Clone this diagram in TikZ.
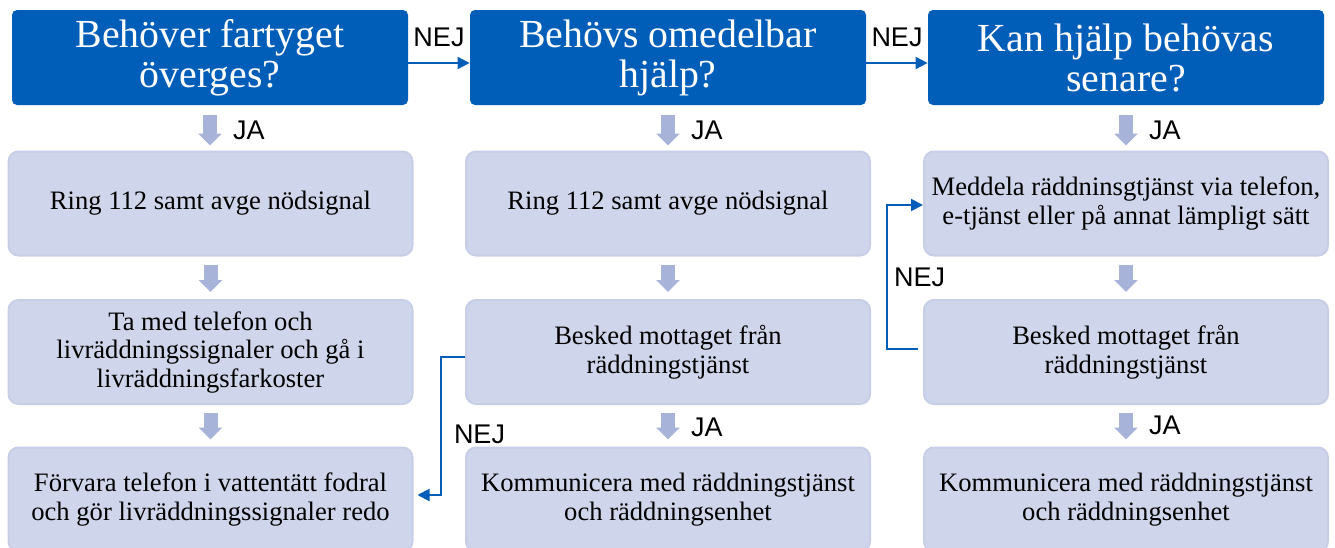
\documentclass[tikz,border=0pt]{standalone}
\usepackage{fontspec}
\setmainfont{Liberation Serif}
\newfontfamily\labelfont{Liberation Sans}
\usetikzlibrary{arrows.meta}
\definecolor{color1}{RGB}{0, 94, 184}
\definecolor{color2}{RGB}{207, 213, 234}
\definecolor{color3}{RGB}{168, 179, 217}
\definecolor{color4}{RGB}{199, 206, 230}

\begin{document}
\begin{tikzpicture}[x=0.5pt, y=-0.5pt,
	question/.style={fill=color1, rounded corners=2.5pt, text=white, minimum width=198pt, minimum height=47.5pt, inner sep=0pt, align=center, font=\fontsize{19.9}{20}\selectfont},
	answer/.style={fill=color2, draw=color4, line width=1pt, rounded corners=5pt, minimum width=202pt, minimum height=52pt, inner sep=0pt, align=center, font=\fontsize{13.3}{14.25}\selectfont},
	downarrow/.style={color3, line width=7pt, -{Triangle[width=11.5pt, length=6pt]}, shorten <=4pt, shorten >=3.5pt},
	nejarrow/.style={color1, line width=1pt, -{Triangle[width=6pt, length=6pt]}},
	tag/.style={inner sep=0pt, text=black, font=\labelfont\fontsize{13.5}{15}\selectfont}]
	\useasboundingbox (0,0) rectangle (1335,547);
	\node[question] (q1) at (210,57.5) {Behöver fartyget\\överges?};
	\node[question] (q2) at (668,57.5) {Behövs omedelbar\\hjälp?};
	\node[question] (q3) at (1126,57.5) {Kan hjälp behövas\\senare?};
	\node[answer] (a1) at (210.5,203.5) {Ring 112 samt avge nödsignal};
	\node[answer] (a2) at (210.5,352) {Ta med telefon och\\livräddningssignaler och gå i\\livräddningsfarkoster};
	\node[answer] (a3) at (210.5,499.5) {Förvara telefon i vattentätt fodral\\och gör livräddningssignaler redo};
	\node[answer] (b1) at (668,203.5) {Ring 112 samt avge nödsignal};
	\node[answer] (b2) at (668,352) {Besked mottaget från\\räddningstjänst};
	\node[answer] (b3) at (668,499.5) {Kommunicera med räddningstjänst\\och räddningsenhet};
	\node[answer] (c1) at (1126,203.5) {Meddela räddninsgtjänst via telefon,\\e-tjänst eller på annat lämpligt sätt};
	\node[answer] (c2) at (1126,352) {Besked mottaget från\\räddningstjänst};
	\node[answer] (c3) at (1126,499.5) {Kommunicera med räddningstjänst\\och räddningsenhet};
	\draw[downarrow, shorten <=5pt, shorten >=2.5pt] (q1.south) -- (q1.south |- a1.north) node[tag, midway, right=8pt, yshift=-1pt] (ja1) {JA};
	\draw[downarrow, shorten <=5pt, shorten >=2.5pt] (q2.south) -- (q2.south |- b1.north) node[tag, midway, right=8pt, yshift=-1pt] (ja2) {JA};
	\draw[downarrow, shorten <=5pt, shorten >=2.5pt] (q3.south) -- (q3.south |- c1.north) node[tag, midway, right=8pt, yshift=-1pt] (ja3) {JA};
	\draw[downarrow] (a1) -- (a2);
	\draw[downarrow] (b1) -- (b2);
	\draw[downarrow] (c1) -- (c2);
	\draw[downarrow] (a2) -- (a3);
	\draw[downarrow] (b2) -- (b3) node[tag, midway, right=8pt, yshift=-1pt] (ja4) {JA};
	\draw[downarrow] (c2) -- (c3) node[tag, midway, right=8pt] (ja5) {JA};
	\draw[nejarrow] ([yshift=-2.75pt]q1.east) -- ([yshift=-2.75pt]q2.west) node[tag, midway, above=7.5pt] (nej1) {NEJ};
	\draw[nejarrow] ([yshift=-2.75pt]q2.east) -- ([yshift=-2.75pt]q3.west) node[tag, midway, above=7.5pt] (nej2) {NEJ};
	\draw[nejarrow, shorten >=2pt] ([yshift=-2.5pt]b2.west) -- ++(-24,0) |- ([yshift=2.25pt]a3.east) node[tag, pos=.28, right=6pt] (nej3) {NEJ};
	\draw[nejarrow] ([xshift=-2.5pt, yshift=1.5pt]c2.west) -- ++(-31,0) |- ([yshift=-0.75pt]c1.west) node[tag, pos=.25, right=3pt] (nej4) {NEJ};
\end{tikzpicture}
\end{document}
